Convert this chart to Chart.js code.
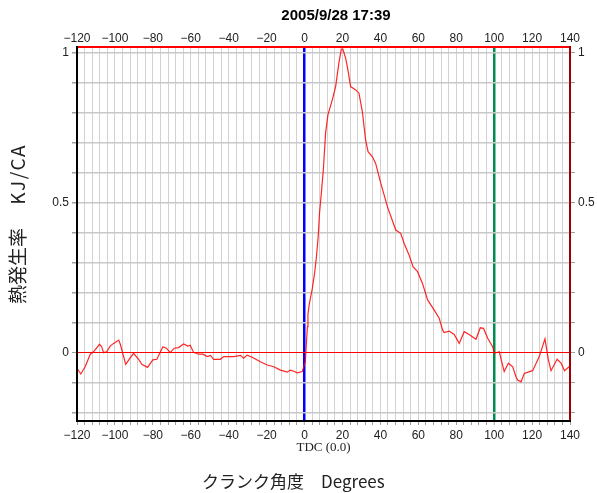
<!DOCTYPE html>
<html>
<head>
<meta charset="utf-8">
<script src="https://cdn.jsdelivr.net/npm/chart.js@4.4.1/dist/chart.umd.min.js"></script>
<style>
  html, body { margin: 0; padding: 0; background: #ffffff; }
  #wrap { width: 597px; height: 493px; position: relative; }
</style>
</head>
<body>
<div id="wrap"><canvas id="c"></canvas></div>
<script>
// ---- data ----
const chartTitle = "2005/9/28 17:39";
const xAxisTitle = "クランク角度\u3000Degrees";
const yAxisTitleJa = "熱発生率\u3000 ";
const yAxisTitleUnit = "KJ/CA";
const tdcLabel = "TDC (0.0)";

const crankAngles = [
  -120, -118, -115.7, -113, -111.3, -108.1, -107, -106, -104.3, -102.5, -100.7, -98, -97.2,
  -94.3, -92.5, -90.2, -87.5, -85.8, -82.8, -80, -77.9, -74.7, -72.9, -70.8, -68.7, -66.4,
  -63.8, -61.5, -60.3, -58.5, -55.9, -53.5, -51.4, -49.6, -47.9, -44.4, -42.6, -37.3, -33.8,
  -32.1, -30.3, -27.6, -23.3, -19.7, -16.2, -12.7, -9.1, -7.4, -5.6, -3.9, -1.2, 0.4, 1.5,
  1.8, 2.6, 4.1, 5.3, 6.2, 7.2, 7.9, 9.0, 9.9, 11.1, 12.3, 14.6, 16.4, 18.1, 19.4, 20.2,
  21.7, 22.9, 24.3, 27, 28.7, 30.5, 32.2, 33.5, 35.8, 37.5, 39.3, 40.2, 43.7, 48.1, 50.7,
  52.5, 55.1, 57.2, 59.6, 62.2, 64.9, 68.4, 71, 72.8, 73.6, 76.3, 78.9, 81.6, 84.2, 86.8,
  90.4, 92.7, 94.4, 96.6, 99.2, 100.1, 102.7, 105.3, 107.5, 109.8, 111.5, 112.4, 114.2,
  115.9, 118.6, 120.3, 123.8, 126.8, 128.6, 130, 133.2, 135.3, 137.1, 140
];
const heatRelease = [
  -0.051, -0.07, -0.046, -0.004, 0.004, 0.029, 0.021, 0.001, 0.004, 0.023, 0.032, 0.043, 0.03,
  -0.038, -0.021, -0.001, -0.021, -0.038, -0.048, -0.023, -0.021, 0.021, 0.016, 0.001, 0.016, 0.018,
  0.03, 0.023, 0.026, 0.002, -0.004, -0.004, -0.012, -0.008, -0.021, -0.021, -0.012, -0.012, -0.008,
  -0.017, -0.007, -0.014, -0.029, -0.04, -0.046, -0.057, -0.064, -0.057, -0.061, -0.066, -0.062, -0.029, 0.088,
  0.13, 0.166, 0.215, 0.266, 0.316, 0.388, 0.466, 0.543, 0.61, 0.732, 0.793, 0.843, 0.888, 0.966, 1.013, 1.013,
  0.982, 0.943, 0.888, 0.877, 0.866, 0.804, 0.71, 0.671, 0.654, 0.632, 0.588, 0.566, 0.488, 0.41, 0.399,
  0.366, 0.327, 0.288, 0.271, 0.232, 0.177, 0.143, 0.116, 0.077, 0.068, 0.073, 0.062, 0.032, 0.071, 0.062,
  0.046, 0.084, 0.082, 0.049, 0.021, -0.001, 0.004, -0.062, -0.034, -0.046, -0.079, -0.09, -0.096,
  -0.068, -0.062, -0.059, -0.012, 0.047, -0.023, -0.059, -0.021, -0.034, -0.059, -0.043
];

const xMin = -120, xMax = 140;
const yMin = -0.2267, yMax = 1.02;
const xGridTicks = [];            // grid every 4 degrees
for (let v = xMin; v <= xMax; v += 4) xGridTicks.push(v);
const xLabelTicks = [-120, -100, -80, -60, -40, -20, 0, 20, 40, 60, 80, 100, 120, 140];
const yGridTicks = [-0.2, -0.1, 0, 0.1, 0.2, 0.3, 0.4, 0.5, 0.6, 0.7, 0.8, 0.9, 1.0];
const yLabelTicks = [0, 0.5, 1];
const tdcAngle = 0;
const evoAngle = 100;

// ---- helpers ----
const near = (a, b) => Math.abs(a - b) < 1e-6;
const fmtX = v => (v < 0 ? "\u2212" + Math.abs(v) : String(v));
const fmtY = v => (yLabelTicks.some(t => near(t, v)) ? String(Math.round(v * 10) / 10) : "");
const tickFont = { family: "'Liberation Sans', Arial, sans-serif", size: 12 };

const framePlugin = {
  id: "frame",
  afterDraw(chart) {
    const { ctx, chartArea: a } = chart;
    ctx.save();
    ctx.lineWidth = 2;
    ctx.lineCap = "square";
    ctx.strokeStyle = "#ff0000";
    ctx.beginPath(); ctx.moveTo(a.left, a.top); ctx.lineTo(a.right, a.top); ctx.stroke();
    ctx.strokeStyle = "#a00000";
    ctx.beginPath(); ctx.moveTo(a.right, a.top); ctx.lineTo(a.right, a.bottom); ctx.stroke();
    ctx.strokeStyle = "#000000";
    ctx.beginPath(); ctx.moveTo(a.left, a.top); ctx.lineTo(a.left, a.bottom); ctx.lineTo(a.right, a.bottom); ctx.stroke();
    ctx.restore();
  }
};

const textPlugin = {
  id: "texts",
  afterDraw(chart) {
    const { ctx, chartArea } = chart;
    const xs = chart.scales.x;
    ctx.save();
    ctx.fillStyle = "#000";
    ctx.font = "bold 15px 'Liberation Sans', Arial, sans-serif";
    ctx.textAlign = "center";
    ctx.textBaseline = "middle";
    ctx.fillText(chartTitle, chartArea.left + 259, 16);
    ctx.fillStyle = "#222";
    ctx.font = "13px 'Liberation Serif', 'DejaVu Serif', serif";
    ctx.textAlign = "left";
    ctx.fillText(tdcLabel, xs.getPixelForValue(tdcAngle) - 8, chartArea.bottom + 27);
    ctx.font = "17px 'Noto Sans CJK JP', sans-serif";
    ctx.fillText(xAxisTitle, chartArea.left + 125, chartArea.bottom + 61);
    ctx.translate(18, chartArea.bottom - 117);
    ctx.rotate(-Math.PI / 2);
    ctx.font = "19px 'Noto Sans CJK JP', sans-serif";
    ctx.fillText(yAxisTitleJa, 0, 0);
    const w = ctx.measureText(yAxisTitleJa).width;
    ctx.letterSpacing = "1.5px";
    ctx.fillText(yAxisTitleUnit, w, 0);
    ctx.restore();
  }
};

const bgPlugin = {
  id: "bg",
  beforeDraw(chart) {
    const { ctx } = chart;
    ctx.save();
    ctx.fillStyle = "#fff";
    ctx.fillRect(0, 0, chart.width, chart.height);
    ctx.restore();
  }
};

new Chart(document.getElementById("c"), {
  type: "line",
  data: {
    datasets: [{
      data: crankAngles.map((a, i) => ({ x: a, y: heatRelease[i] })),
      borderColor: "rgba(255,0,0,0.85)",
      borderWidth: 1.2,
      pointRadius: 0,
      tension: 0,
      fill: false
    }]
  },
  options: {
    responsive: true,
    maintainAspectRatio: false,
    animation: false,
    layout: { padding: 0 },
    plugins: { legend: { display: false }, tooltip: { enabled: false }, title: { display: false } },
    scales: {
      x: {
        type: "linear", position: "bottom", min: xMin, max: xMax,
        afterBuildTicks: s => { s.ticks = xGridTicks.map(v => ({ value: v })); },
        afterFit: s => { s.height = 72; },
        ticks: {
          autoSkip: false, maxRotation: 0, padding: 3, color: "#222", font: tickFont,
          callback: v => (xLabelTicks.some(t => near(t, v)) ? fmtX(v) : "")
        },
        grid: {
          color: c => near(c.tick.value, tdcAngle) ? "#0000ff" : near(c.tick.value, evoAngle) ? "#008c50" : "#d2d2d2",
          lineWidth: c => (near(c.tick.value, tdcAngle) || near(c.tick.value, evoAngle)) ? 2.5 : 1,
          tickColor: "#a0a0a0", tickLength: 4, tickWidth: 1
        },
        border: { color: "#000", width: 2 }
      },
      x2: {
        type: "linear", position: "top", min: xMin, max: xMax,
        afterBuildTicks: s => { s.ticks = xLabelTicks.map(v => ({ value: v })); },
        afterFit: s => { s.height = 47; },
        ticks: { autoSkip: false, maxRotation: 0, padding: 1, color: "#222", font: tickFont, callback: v => fmtX(v) },
        grid: { drawOnChartArea: false, drawTicks: false },
        border: { color: "#ff0000", width: 2 }
      },
      y: {
        type: "linear", position: "left", min: yMin, max: yMax,
        afterBuildTicks: s => { s.ticks = yGridTicks.map(v => ({ value: v })); },
        afterFit: s => { s.width = 77; },
        ticks: { autoSkip: false, padding: 3, color: "#222", font: tickFont, callback: v => fmtY(v) },
        grid: {
          color: c => near(c.tick.value, 0) ? "#ff0000" : "#c8c8c8",
          lineWidth: c => near(c.tick.value, 0) ? 1 : 1.5,
          tickColor: "#a0a0a0", tickLength: 5
        },
        border: { color: "#000", width: 2 }
      },
      y2: {
        type: "linear", position: "right", min: yMin, max: yMax,
        afterBuildTicks: s => { s.ticks = yGridTicks.map(v => ({ value: v })); },
        afterFit: s => { s.width = 27; },
        ticks: { autoSkip: false, padding: 3, color: "#222", font: tickFont, callback: v => fmtY(v) },
        grid: { drawOnChartArea: false, tickColor: "#a0a0a0", tickLength: 5 },
        border: { color: "#a00000", width: 2 }
      }
    }
  },
  plugins: [bgPlugin, framePlugin, textPlugin]
});
</script>
</body>
</html>
